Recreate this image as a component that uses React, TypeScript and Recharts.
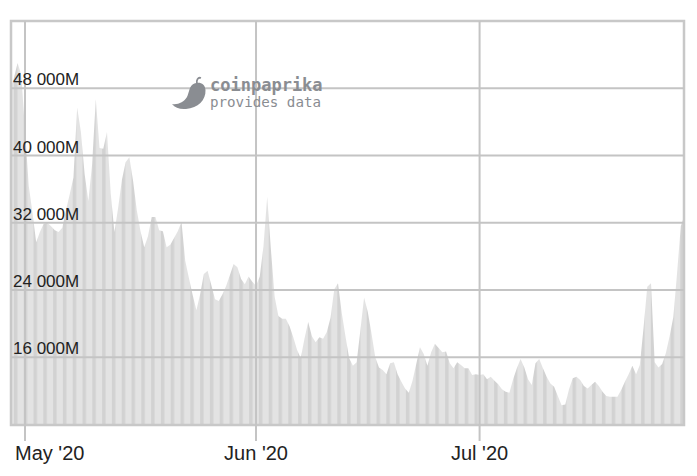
import { AreaChart, Area, XAxis, YAxis, ReferenceLine, ReferenceArea } from 'recharts';

// 12-hour volume samples (USD millions), starting 2020-04-29 00:00 UTC
const startDate = Date.UTC(2020, 3, 29);
const volumes = [
  47800, 49200, 51000, 49600, 43000, 36400, 33200, 29700, 30900, 31900,
  32000, 31600, 31100, 30900, 31400, 33500, 35400, 37400, 45700, 42800,
  37800, 34600, 38900, 46700, 40900, 40800, 42800, 35500, 30900, 33800,
  37100, 39200, 39800, 37000, 33500, 31000, 29100, 30400, 32700, 32700,
  31100, 31000, 29100, 29400, 30200, 31000, 32100, 27500, 25400, 23400,
  21600, 23500, 25900, 26300, 24600, 22900, 22700, 23500, 24500, 25800,
  27100, 26700, 25300, 24700, 25600, 25000, 24500, 25600, 29200, 35100,
  28800, 23200, 20900, 20600, 20600, 19700, 18400, 16900, 15900, 18200,
  20200, 18500, 17800, 18400, 18200, 19000, 20700, 24100, 24800, 21300,
  18500, 15900, 15000, 15400, 19200, 23100, 21400, 18800, 16000, 14800,
  14500, 14000, 15300, 15400, 14000, 13100, 12300, 11800, 13200, 15200,
  17200, 16400, 15000, 16600, 17600, 17100, 16600, 16700, 15300, 14700,
  15400, 15100, 14700, 14700, 13900, 14000, 13900, 14000, 13400, 13700,
  13200, 12800, 12200, 11900, 11800, 13400, 14700, 15800, 14800, 13400,
  12700, 15300, 15800, 14700, 13700, 12900, 12500, 11400, 10300, 10400,
  12200, 13500, 13700, 13300, 12600, 12300, 12700, 13100, 12600, 11900,
  11400, 11300, 11300, 11300, 12100, 13100, 14000, 15000, 14000, 15100,
  19500, 24400, 24800, 15400, 14800, 15200, 16500, 18500, 20800, 26000,
  31600, 32900,
];
const yTicks = [16000, 24000, 32000, 40000, 48000];
const xTickDates = [Date.UTC(2020, 4, 1), Date.UTC(2020, 5, 1), Date.UTC(2020, 6, 1)];
const xTickLabels = ["May '20", "Jun '20", "Jul '20"];

const HALF_DAY = 12 * 3600 * 1000;
const DAY = 2 * HALF_DAY;
const data = volumes.map((v, i) => ({ t: startDate + i * HALF_DAY, v }));

const xDomain = [xTickDates[0] - 1.88 * DAY, xTickDates[0] + 88.43 * DAY];
const yDomain = [7950, 56000];

const GRID = '#c4c4c4';
const FONT = '"Liberation Sans", Arial, sans-serif';

const formatVolume = (v: number) => `${v.toLocaleString('en-US').replace(/,/g, ' ')}M`;

function XTick(props: any) {
  const { x, payload, index } = props;
  const i = xTickDates.indexOf(payload.value);
  const first = index === 0;
  return (
    <text
      x={first ? 15 : x}
      y={460}
      fontSize={20}
      fontFamily={FONT}
      fill="#222"
      textAnchor={first ? 'start' : 'middle'}
    >
      {xTickLabels[i]}
    </text>
  );
}

function Logo() {
  return (
    <svg width={697} height={476} style={{ position: 'absolute', left: 0, top: 0, pointerEvents: 'none' }}>
      <path
        d="M192 85 C197 81 205 82 205.5 90 C206 100 198 108 186 109 C180 109.5 175 108 172 104 C178 105 184 102 187 97 C189 93 189 88 192 85 Z"
        fill="#8a8d92"
      />
      <path d="M197 84 C196 80 198 77 201 78" stroke="#8a8d92" strokeWidth={1.8} fill="none" />
      <text x={210} y={91} fontSize={17} fontWeight="bold" fontFamily='"DejaVu Sans Mono", monospace' fill="#8a8d92">
        coinpaprika
      </text>
      <text x={210} y={107} fontSize={14.2} fontFamily='"DejaVu Sans Mono", monospace' fill="#8a8d92">
        provides data
      </text>
    </svg>
  );
}

export default function App() {
  return (
    <div style={{ position: 'absolute', left: 0, top: 0, width: 697, height: 476, background: '#fff' }}>
      <AreaChart width={697} height={476} data={data} margin={{ top: 21, right: 13, bottom: 0, left: 11 }}>
        <defs>
          <pattern id="stripes" patternUnits="userSpaceOnUse" x={4.1} y={0} width={9.8} height={10}>
            <rect x={0} y={0} width={9.8} height={10} fill="#e3e3e3" />
            <rect x={0} y={0} width={3.5} height={10} fill="#d2d2d2" />
          </pattern>
        </defs>
        <XAxis
          dataKey="t"
          type="number"
          domain={xDomain}
          allowDataOverflow
          ticks={xTickDates}
          interval={0}
          height={51}
          axisLine={false}
          tickLine={{ stroke: GRID, strokeWidth: 2 }}
          tickSize={16}
          tick={<XTick />}
        />
        <YAxis type="number" domain={yDomain} allowDataOverflow ticks={yTicks} hide />
        <Area
          type="linear"
          dataKey="v"
          stroke="none"
          fill="url(#stripes)"
          fillOpacity={1}
          isAnimationActive={false}
        />
        {xTickDates.map((t) => (
          <ReferenceLine key={t} x={t} stroke={GRID} strokeWidth={2} />
        ))}
        {yTicks.map((v) => (
          <ReferenceLine
            key={v}
            y={v}
            stroke={GRID}
            strokeWidth={2}
            label={(p: any) => (
              <text x={13} y={p.viewBox.y - 3} fontSize={17} fontFamily={FONT} fill="#222" textAnchor="start">
                {formatVolume(v)}
              </text>
            )}
          />
        ))}
        <ReferenceArea
          x1={xDomain[0]}
          x2={xDomain[1]}
          y1={yDomain[0]}
          y2={yDomain[1]}
          fill="none"
          stroke="#c8c8c8"
          strokeWidth={2.5}
        />
      </AreaChart>
      <Logo />
    </div>
  );
}
